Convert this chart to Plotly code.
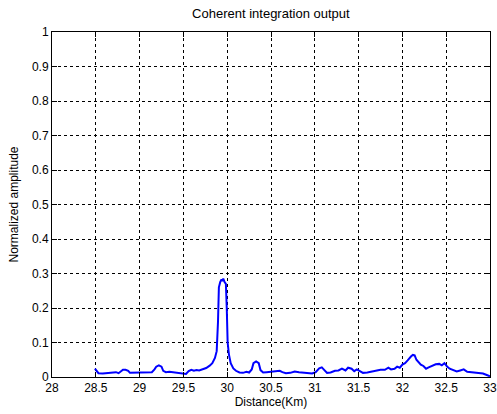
import plotly.graph_objects as go

distance_km = [28.49, 28.51, 28.53, 28.58, 28.63, 28.66, 28.70, 28.73, 28.76, 28.79, 28.81, 28.84,
               28.87, 28.89, 28.95, 29.00, 29.05, 29.10, 29.14, 29.17, 29.19, 29.22, 29.25, 29.27,
               29.30, 29.34, 29.40, 29.46, 29.50, 29.53, 29.56, 29.59, 29.62, 29.65, 29.68, 29.72,
               29.76, 29.80, 29.83, 29.86, 29.88, 29.895, 29.905, 29.92, 29.935, 29.945, 29.955,
               29.97, 29.985, 29.995, 30.005, 30.02, 30.04, 30.07, 30.10, 30.14, 30.18, 30.22,
               30.25, 30.28, 30.30, 30.33, 30.36, 30.38, 30.41, 30.45, 30.50, 30.55, 30.60, 30.63,
               30.67, 30.72, 30.77, 30.82, 30.87, 30.92, 30.97, 31.01, 31.05, 31.08, 31.11, 31.14,
               31.18, 31.23, 31.27, 31.31, 31.35, 31.38, 31.42, 31.45, 31.48, 31.51, 31.55, 31.60,
               31.65, 31.70, 31.75, 31.80, 31.84, 31.87, 31.91, 31.94, 31.97, 32.00, 32.03, 32.06,
               32.08, 32.10, 32.12, 32.14, 32.16, 32.18, 32.21, 32.24, 32.27, 32.30, 32.34, 32.38,
               32.42, 32.45, 32.48, 32.51, 32.54, 32.58, 32.62, 32.66, 32.70, 32.74, 32.80, 32.86,
               32.92, 32.97, 33.00]
amplitude = [0.024, 0.016, 0.011, 0.010, 0.011, 0.013, 0.012, 0.014, 0.011, 0.016, 0.021, 0.021,
             0.018, 0.012, 0.012, 0.012, 0.012, 0.013, 0.014, 0.022, 0.030, 0.034, 0.030, 0.018,
             0.014, 0.015, 0.013, 0.013, 0.011, 0.009, 0.017, 0.021, 0.018, 0.020, 0.019, 0.022,
             0.026, 0.033, 0.040, 0.055, 0.075, 0.160, 0.260, 0.275, 0.283, 0.278, 0.285,
             0.275, 0.270, 0.200, 0.100, 0.065, 0.040, 0.025, 0.018, 0.013, 0.012, 0.015,
             0.013, 0.022, 0.040, 0.045, 0.040, 0.020, 0.013, 0.014, 0.016, 0.018, 0.018, 0.014,
             0.011, 0.012, 0.016, 0.014, 0.012, 0.011, 0.010, 0.014, 0.025, 0.028, 0.020, 0.012,
             0.013, 0.018, 0.019, 0.024, 0.019, 0.027, 0.024, 0.017, 0.022, 0.017, 0.012, 0.013,
             0.016, 0.018, 0.021, 0.021, 0.027, 0.022, 0.024, 0.030, 0.027, 0.036, 0.040, 0.048,
             0.055, 0.060, 0.064, 0.063, 0.050, 0.045, 0.036, 0.032, 0.024, 0.028, 0.033, 0.037,
             0.038, 0.034, 0.040, 0.030, 0.024, 0.020, 0.016, 0.019, 0.022, 0.015, 0.014, 0.012,
             0.010, 0.005, 0.002]

x_ticks = [28, 28.5, 29, 29.5, 30, 30.5, 31, 31.5, 32, 32.5, 33]
x_tick_labels = ["28", "28.5", "29", "29.5", "30", "30.5", "31", "31.5", "32", "32.5", "33"]
y_ticks = [0, 0.1, 0.2, 0.3, 0.4, 0.5, 0.6, 0.7, 0.8, 0.9, 1]
y_tick_labels = ["0", "0.1", "0.2", "0.3", "0.4", "0.5", "0.6", "0.7", "0.8", "0.9", "1"]

FONT = "Liberation Sans, Arial"

fig = go.Figure()
fig.add_trace(go.Scatter(x=distance_km, y=amplitude, mode="lines",
                         line=dict(color="#0000FF", width=2), showlegend=False))

axis_common = dict(showline=True, linecolor="black", linewidth=1, mirror="allticks",
                   ticks="inside", ticklen=5, tickcolor="black", automargin=False,
                   showgrid=True, gridcolor="black", griddash="3px,3px", gridwidth=1,
                   zeroline=False, tickfont=dict(family=FONT, size=12, color="black"))

fig.update_xaxes(range=[28, 33], tickvals=x_ticks, ticktext=x_tick_labels,
                 title=dict(text="Distance(Km)", font=dict(family=FONT, size=12, color="black"),
                            standoff=0), **axis_common)
fig.update_yaxes(range=[0, 1], tickvals=y_ticks, ticktext=y_tick_labels,
                 title=dict(text="Normalized amplitude", font=dict(family=FONT, size=12, color="black"),
                            standoff=10), **axis_common)

fig.update_layout(
    width=497, height=414,
    margin=dict(l=52, r=7, t=32, b=37),
    paper_bgcolor="white", plot_bgcolor="white",
    title=dict(text="Coherent integration output", x=0.545, xanchor="center", y=0.978, yanchor="top",
               font=dict(family=FONT, size=13, color="black")),
)

fig.write_html("out.html", config={"displayModeBar": False},
               post_script="document.body.style.margin='0';document.documentElement.style.overflow='hidden';")
